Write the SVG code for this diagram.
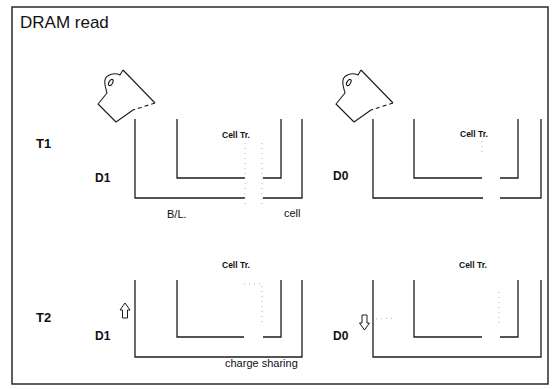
<svg xmlns="http://www.w3.org/2000/svg" width="556" height="389" viewBox="0 0 556 389">
  <style>
    .frame { fill: none; stroke: #2a2a2a; stroke-width: 1.5; }
    .wall { fill: none; stroke: #1c1c1c; stroke-width: 1.3; stroke-linejoin: miter; }
    .dots { fill: none; stroke: #b4b4b4; stroke-width: 1; stroke-dasharray: 1 4; }
    .jug { fill: none; stroke: #1c1c1c; stroke-width: 1.1; stroke-linejoin: round; }
    .jug-lip { fill: none; stroke: #1c1c1c; stroke-width: 1.1; stroke-dasharray: 4 3; }
    .arrow { fill: #fff; stroke: #1c1c1c; stroke-width: 1; stroke-linejoin: miter; }
    .title { font-family: "Liberation Sans", Arial, sans-serif; font-size: 17px; fill: #111; }
    .step { font-family: "Liberation Sans", Arial, sans-serif; font-size: 13px; font-weight: bold; fill: #111; }
    .state { font-family: "Liberation Sans", Arial, sans-serif; font-size: 12px; font-weight: bold; fill: #111; }
    .tr { font-family: "Liberation Sans", Arial, sans-serif; font-size: 8.5px; font-weight: bold; fill: #111; }
    .note { font-family: "Liberation Sans", Arial, sans-serif; font-size: 11px; fill: #111; }
  </style>
  <defs>
    <!-- tilted jug pouring charge into the bit line -->
    <g id="jug">
      <path class="jug" d="M123,70 L155,103"/>
      <path class="jug-lip" d="M155,103 L133,110"/>
      <path class="jug" d="M133,110 L116,122 L98,104 L107,93 C106,89 104,84 105,80 C106,75 114,72 120,75 L123,70"/>
      <ellipse class="jug" cx="110.8" cy="82.5" rx="1.8" ry="3.4" transform="rotate(30 110.8 82.5)"/>
    </g>
  </defs>

  <rect class="frame" x="12" y="7" width="536" height="377"/>
  <text class="title" x="20" y="28">DRAM read</text>

  <g id="step-t1">
    <text class="step" x="36" y="148">T1</text>
  </g>
  <g id="step-t2">
    <text class="step" x="36" y="322">T2</text>
  </g>

  <!-- T1, data 1 -->
  <g id="t1-d1">
    <use href="#jug"/>
    <text class="state" x="95" y="182">D1</text>
    <polyline class="wall" points="135,119 135,198 245,198"/>
    <polyline class="wall" points="263,198 302,198 302,119"/>
    <polyline class="wall" points="177,119 177,178 245,178"/>
    <polyline class="wall" points="263,178 281,178 281,119"/>
    <text class="tr" x="222" y="138">Cell Tr.</text>
    <line class="dots" x1="245" y1="143" x2="245" y2="204"/>
    <line class="dots" x1="262" y1="143" x2="262" y2="206"/>
    <text class="note" x="167" y="218">B/L.</text>
    <text class="note" x="284" y="217">cell</text>
  </g>

  <!-- T1, data 0 -->
  <g id="t1-d0">
    <use href="#jug" transform="translate(238,0)"/>
    <text class="state" x="333" y="180">D0</text>
    <polyline class="wall" points="373,119 373,198 483,198"/>
    <polyline class="wall" points="500,198 541,198 541,119"/>
    <polyline class="wall" points="414,119 414,178 482,178"/>
    <polyline class="wall" points="500,178 518,178 518,119"/>
    <text class="tr" x="460" y="137">Cell Tr.</text>
    <line class="dots" x1="482" y1="141" x2="482" y2="153"/>
  </g>

  <!-- T2, data 1 -->
  <g id="t2-d1">
    <text class="state" x="95" y="340">D1</text>
    <polyline class="wall" points="135,280 135,357 302,357 302,280"/>
    <polyline class="wall" points="177,280 177,337 244,337"/>
    <polyline class="wall" points="263,337 281,337 281,280"/>
    <text class="tr" x="222" y="268">Cell Tr.</text>
    <polyline class="dots" points="244,284 262,284 262,324"/>
  </g>

  <!-- T2, data 0 -->
  <g id="t2-d0">
    <text class="state" x="333" y="340">D0</text>
    <polyline class="wall" points="373,280 373,357 541,357 541,280"/>
    <polyline class="wall" points="414,280 414,337 482,337"/>
    <polyline class="wall" points="500,337 518,337 518,280"/>
    <text class="tr" x="459" y="268">Cell Tr.</text>
    <line class="dots" x1="499" y1="292" x2="499" y2="325"/>
  </g>

  <text class="note" x="225" y="367" font-size="12">charge sharing</text>

  <!-- level shift arrows and charge hints -->
  <g id="connectors">
    <path class="arrow" d="M125,303 L130,310 L127.5,310 L127.5,318 L122.5,318 L122.5,310 L120,310 Z"/>
    <path class="arrow" d="M364.5,330 L359.5,323 L362,323 L362,315 L367,315 L367,323 L369.5,323 Z"/>
    <line class="dots" x1="376" y1="319" x2="396" y2="318"/>
  </g>
</svg>
